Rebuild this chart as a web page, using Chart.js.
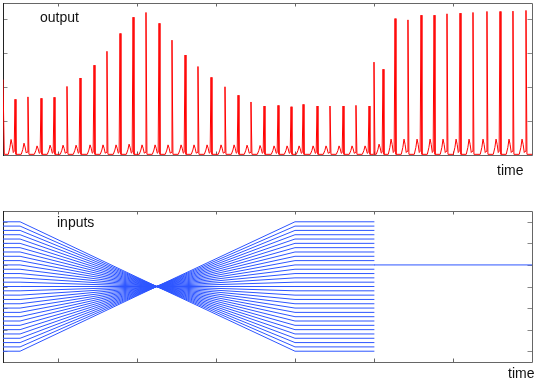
<!DOCTYPE html>
<html>
<head>
<meta charset="utf-8">
<script src="https://cdn.jsdelivr.net/npm/chart.js@4.4.1/dist/chart.umd.min.js"></script>
<style>
  html, body { margin: 0; padding: 0; background: #fff; }
  #wrap { position: relative; width: 545px; height: 382px; overflow: hidden; }
  canvas { position: absolute; left: 0; top: 0; }
  .lbl { position: absolute; font-family: "Liberation Sans", Arial, sans-serif; font-size: 14px; line-height: 14px; color: #111; white-space: nowrap; }
</style>
</head>
<body>
<div id="wrap">
  <canvas id="top" width="545" height="382"></canvas>
  <canvas id="bot" width="545" height="382"></canvas>
  <div class="lbl" style="left:40px;top:10px;">output</div>
  <div class="lbl" style="left:497px;top:163px;">time</div>
  <div class="lbl" style="left:57px;top:215px;">inputs</div>
  <div class="lbl" style="left:508px;top:366px;">time</div>
</div>
<script>
// ---- axes ----
const timeMin = 30.4;
const timeMax = 700;
const timeTicks = [100, 200, 300, 400, 500, 600, 700];
const outputTicks = [1, 2, 3, 4];
const inputTicks = [-3, -2, -1, 0, 1, 2, 3];

// ---- output trace ----
const traceStart = [[30.4, 2.2], [32.0, 0]];
const spikeTimes = [45.6, 62.0, 78.5, 95.0, 111.4, 127.9, 145.6, 162.0, 178.5, 195.0,
  211.4, 227.9, 244.3, 260.8, 277.2, 293.7, 311.4, 327.9, 344.3, 360.8,
  378.5, 395.0, 410.2, 427.9, 444.3, 460.8, 477.2, 493.7, 500.0, 511.4,
  526.6, 543.0, 559.5, 576.0, 592.4, 608.9, 625.3, 643.0, 659.5, 675.9, 692.4];
const spikePeaks = [1.63, 1.70, 1.66, 1.69, 2.01, 2.26, 2.64, 3.05, 3.58, 4.06,
  4.20, 3.88, 3.38, 2.94, 2.60, 2.28, 2.00, 1.75, 1.55, 1.43,
  1.45, 1.41, 1.48, 1.43, 1.43, 1.43, 1.45, 1.43, 2.73, 2.52,
  4.02, 3.98, 4.12, 4.12, 4.16, 4.18, 4.20, 4.23, 4.23, 4.24, 4.26];
const bumpHeights = [0.44, 0.33, 0.25, 0.27, 0.27, 0.27, 0.28, 0.28, 0.28, 0.30,
  0.28, 0.28, 0.28, 0.28, 0.28, 0.28, 0.28, 0.28, 0.27, 0.26,
  0.25, 0.25, 0.25, 0.25, 0.25, 0.25, 0.25, 0.25, 0, 0.30,
  0.45, 0.45, 0.45, 0.45, 0.45, 0.45, 0.45, 0.45, 0.45, 0.45, 0.45];
const cycleOffsets = [-8.5, -6.5, -5.0, -3.6, -2.2, -1.1, 0, 1.2];
const cycleShape   = [0, 0.45, 1.0, 0.65, 0.12, 0.2, null, 0];

// ---- inputs ----
const inputLevels = [-3.0, -2.8, -2.6, -2.4, -2.2, -2.0, -1.8, -1.6, -1.4, -1.2, -1.0,
  -0.8, -0.6, -0.4, -0.2, 0.0, 0.2, 0.4, 0.6, 0.8, 1.0,
  1.2, 1.4, 1.6, 1.8, 2.0, 2.2, 2.4, 2.6, 2.8, 3.0];
const inputBreakTimes = [30.4, 52, 225, 400, 500];
const convergeLevel = 0;
const finalTimes = [500, 700];
const finalLevel = 1;

// ---- build output points ----
const outPts = traceStart.map(p => ({x: p[0], y: p[1]}));
spikeTimes.forEach((t, k) => {
  cycleOffsets.forEach((o, j) => {
    if (cycleShape[j] === null) { outPts.push({x: t + o, y: spikePeaks[k]}); return; }
    if (bumpHeights[k] === 0 && o < -1.1) return;
    outPts.push({x: t + o, y: cycleShape[j] * bumpHeights[k]});
  });
});
outPts.push({x: timeMax, y: 0});

// ---- build input datasets ----
const blue = 'rgb(45,85,255)';
const inDatasets = inputLevels.map(L => ({
  data: inputBreakTimes.map((t, i) => ({x: t, y: i === 2 ? convergeLevel : L})),
  borderColor: blue, borderWidth: 1, pointRadius: 0, tension: 0
}));
inDatasets.push({
  data: finalTimes.map(t => ({x: t, y: finalLevel})),
  borderColor: blue, borderWidth: 1, pointRadius: 0, tension: 0
});

// ---- frame + inward ticks plugin ----
function framePlugin(yTicks) {
  return {
    id: 'frame',
    beforeDatasetsDraw(chart) {
      const {ctx, chartArea: a, scales} = chart;
      ctx.save();
      ctx.lineWidth = 1;
      ctx.strokeStyle = '#666';
      timeTicks.forEach(t => {
        const px = Math.round(scales.x.getPixelForValue(t)) + 0.5;
        if (px > a.right - 1) return;
        ctx.beginPath();
        ctx.moveTo(px, a.top); ctx.lineTo(px, a.top + 3.5);
        ctx.moveTo(px, a.bottom); ctx.lineTo(px, a.bottom - 3.5);
        ctx.stroke();
      });
      ctx.strokeStyle = '#888';
      yTicks.forEach(v => {
        const py = Math.round(scales.y.getPixelForValue(v)) + 0.5;
        ctx.beginPath();
        ctx.moveTo(a.left, py); ctx.lineTo(a.left + 4.5, py);
        ctx.moveTo(a.right, py); ctx.lineTo(a.right - 4.5, py);
        ctx.stroke();
      });
      ctx.strokeStyle = '#666';
      ctx.beginPath();
      ctx.moveTo(a.left + 0.5, a.top + 0.5); ctx.lineTo(a.right + 0.5, a.top + 0.5);
      ctx.lineTo(a.right + 0.5, a.bottom + 0.5); ctx.lineTo(a.left + 0.5, a.bottom + 0.5);
      ctx.stroke();
      ctx.strokeStyle = '#222';
      ctx.beginPath();
      ctx.moveTo(a.left + 0.5, a.top); ctx.lineTo(a.left + 0.5, a.bottom + 1);
      ctx.stroke();
      ctx.restore();
    }
  };
}

const baseOpts = (padding, ymin, ymax) => ({
  responsive: false,
  animation: false,
  devicePixelRatio: 1,
  layout: { padding },
  plugins: { legend: { display: false }, tooltip: { enabled: false } },
  elements: { line: { borderJoinStyle: 'round', borderCapStyle: 'round' } },
  scales: {
    x: { type: 'linear', min: timeMin, max: timeMax, display: false },
    y: { type: 'linear', min: ymin, max: ymax, display: false }
  }
});

new Chart(document.getElementById('top'), {
  type: 'line',
  data: { datasets: [{ data: outPts, borderColor: '#ff0000', borderWidth: 1, pointRadius: 0, tension: 0 }] },
  options: baseOpts({left: 3, top: 3, right: 13, bottom: 227}, -0.02, 4.48),
  plugins: [framePlugin(outputTicks)]
});

new Chart(document.getElementById('bot'), {
  type: 'line',
  data: { datasets: inDatasets },
  options: baseOpts({left: 3, top: 211, right: 13, bottom: 20}, -3.5, 3.5),
  plugins: [framePlugin(inputTicks)]
});
</script>
</body>
</html>
